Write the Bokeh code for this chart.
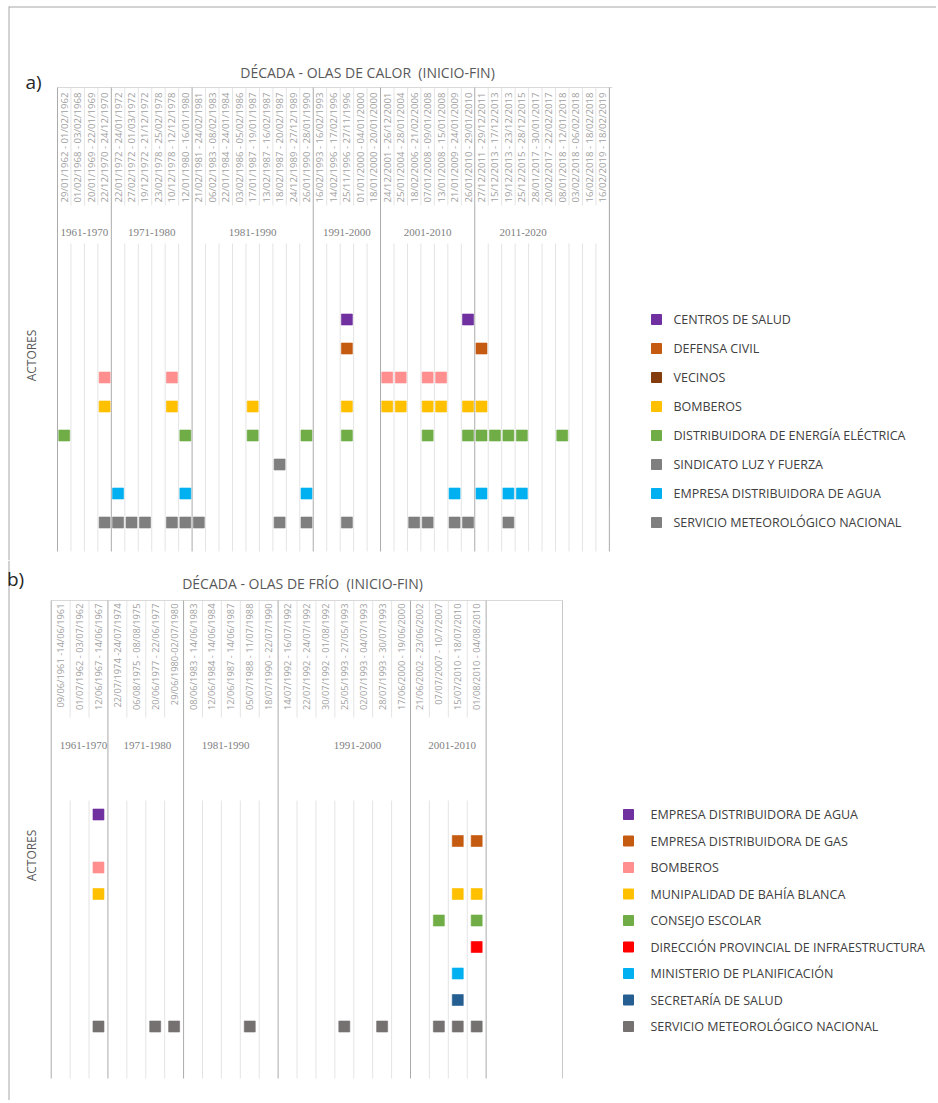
import math
from bokeh.plotting import figure
from bokeh.layouts import column
from bokeh.models import Range1d
from bokeh.core.properties import value
from bokeh.embed import file_html
from bokeh.resources import INLINE

# ---------------- DATA: heat waves (panel a) ----------------
HEAT_DATES = [
    "29/01/1962 - 01/02/1962", "01/02/1968 - 03/02/1968", "20/01/1969 - 22/01/1969",
    "22/12/1970 - 24/12/1970", "22/01/1972 - 24/01/1972", "27/02/1972 - 01/03/1972",
    "19/12/1972 - 21/12/1972", "23/02/1978 - 25/02/1978", "10/12/1978 - 12/12/1978",
    "12/01/1980 - 16/01/1980", "21/02/1981 - 24/02/1981", "06/02/1983 - 08/02/1983",
    "22/01/1984 - 24/01/1984", "03/02/1986 - 05/02/1986", "17/01/1987 - 19/01/1987",
    "13/02/1987 - 16/02/1987", "18/02/1987 - 20/02/1987", "24/12/1989 - 27/12/1989",
    "26/01/1990 - 28/01/1990", "16/02/1993 - 16/02/1993", "14/02/1996 - 17/02/1996",
    "25/11/1996 - 27/11/1996", "01/01/2000 - 04/01/2000", "18/01/2000 - 20/01/2000",
    "24/12/2001 - 26/12/2001", "25/01/2004 - 28/01/2004", "18/02/2006 - 21/02/2006",
    "07/01/2008 - 09/01/2008", "13/01/2008 - 15/01/2008", "21/01/2009 - 24/01/2009",
    "26/01/2010 - 29/01/2010", "27/12/2011 - 29/12/2011", "15/12/2013 - 17/12/2013",
    "19/12/2013 - 23/12/2013", "25/12/2015 - 28/12/2015", "28/01/2017 - 30/01/2017",
    "20/02/2017 - 22/02/2017", "08/01/2018 - 12/01/2018", "03/02/2018 - 06/02/2018",
    "16/02/2018 - 18/02/2018", "16/02/2019 - 18/02/2019",
]
HEAT_DECADES = ["1961-1970", "1971-1980", "1981-1990", "1991-2000", "2001-2010", "2011-2020"]
HEAT_DECADE_COUNTS = [4, 6, 9, 5, 7, 10]
HEAT_ACTORS = [
    "Centros de salud", "Defensa civil", "Vecinos", "Bomberos",
    "distribuidora de energía eléctrica", "Sindicato Luz y Fuerza",
    "Empresa distribuidora de agua", "Servicio Meteorológico Nacional",
]
# column indices (into HEAT_DATES) where each actor intervened
HEAT_EVENTS = [
    [21, 30],
    [21, 31],
    [3, 8, 24, 25, 27, 28],
    [3, 8, 14, 21, 24, 25, 27, 28, 30, 31],
    [0, 9, 14, 18, 21, 27, 30, 31, 32, 33, 34, 37],
    [16],
    [4, 9, 18, 29, 31, 33, 34],
    [3, 4, 5, 6, 8, 9, 10, 16, 18, 21, 26, 27, 29, 30, 33],
]

# ---------------- DATA: cold waves (panel b) ----------------
COLD_DATES = [
    "09/06/1961 -14/06/1961", "01/07/1962 - 03/07/1962", "12/06/1967 - 14/06/1967",
    "22/07/1974 -24/07/1974", "06/08/1975 - 08/08/1975", "20/06/1977 - 22/06/1977",
    "29/06/1980-02/07/1980", "08/06/1983 - 14/06/1983", "12/06/1984 - 14/06/1984",
    "12/06/1987 - 14/06/1987", "05/07/1988 - 11/07/1988", "18/07/1990 - 22/07/1990",
    "14/07/1992 - 16/07/1992", "22/07/1992 - 24/07/1992", "30/07/1992 - 01/08/1992",
    "25/05/1993 - 27/05/1993", "02/07/1993 - 04/07/1993", "28/07/1993 - 30/07/1993",
    "17/06/2000 - 19/06/2000", "21/06/2002 - 23/06/2002", "07/07/2007 - 10/7/2007",
    "15/07/2010 - 18/07/2010", "01/08/2010 - 04/08/2010",
]
COLD_DECADES = ["1961-1970", "1971-1980", "1981-1990", "1991-2000", "2001-2010"]
COLD_DECADE_COUNTS = [3, 4, 5, 7, 4]
COLD_ACTORS = [
    "Empresa distribuidora de agua", "Empresa distribuidora de gas", "Bomberos",
    "Munipalidad de Bahía Blanca", "Consejo Escolar",
    "Dirección Provincial de Infraestructura", "Ministerio de Planificación",
    "Secretaría de Salud", "Servicio Meteorológico Nacional",
]
COLD_EVENTS = [
    [2],
    [21, 22],
    [2],
    [2, 21, 22],
    [20, 22],
    [22],
    [21],
    [21],
    [2, 5, 6, 10, 15, 17, 20, 21, 22],
]

# ---------------- styles ----------------
HEAT_MARK_COLORS = ["#7030A0", "#C55A11", "#FF8F8F", "#FFC000", "#70AD47", "#7F7F7F", "#00B0F0", "#7F7F7F"]
HEAT_LEG_COLORS = ["#7030A0", "#C55A11", "#843C0C", "#FFC000", "#70AD47", "#7F7F7F", "#00B0F0", "#7F7F7F"]
COLD_MARK_COLORS = ["#7030A0", "#C55A11", "#FF8F8F", "#FFC000", "#70AD47", "#FF0000", "#00B0F0", "#255E91", "#767171"]

FONT = value("Open Sans")
SERIF = value("Liberation Serif")
LIGHT = "#E4E4E4"
DIV = "#ABABAB"
W = 936
PAGE_X = 0  # page x of the figures' left edge


def build_panel(cfg, dates, decades, counts, actors, events, mark_colors, leg_colors):
    top, H = cfg["fig_top"], cfg["height"]
    x0, cw, y0, rh = cfg["x0"], cfg["cw"], cfg["row0"], cfg["rh"]

    def X(px):
        return (px - x0) / cw

    def Y(py):
        return (py - y0) / rh

    p = figure(width=W, height=H, output_backend="svg", toolbar_location=None,
               x_range=Range1d(X(PAGE_X), X(PAGE_X + W)), y_range=Range1d(Y(top + H), Y(top)),
               min_border=0, x_axis_location=None, y_axis_location=None)
    p.grid.visible = False
    p.outline_line_color = None
    p.background_fill_color = "white"
    p.border_fill_color = "white"

    n = len(dates)
    bounds = [0]
    for c in counts:
        bounds.append(bounds[-1] + c)
    div_set = set(bounds)

    # light column separators (header and data area)
    xs0, ys0, xs1, ys1 = [], [], [], []
    for k in range(1, n + 1):
        if k in div_set:
            continue
        xs0 += [k, k]
        xs1 += [k, k]
        ys0 += [Y(cfg["header_top"]), Y(cfg["data_top"])]
        ys1 += [Y(cfg["sep_bottom"]), Y(cfg["data_bottom"])]
    p.segment(xs0, ys0, xs1, ys1, line_color=LIGHT, line_width=1)

    # header top line
    p.segment([X(x0)], [Y(cfg["header_top"])], [X(cfg["header_right"])], [Y(cfg["header_top"])],
              line_color="#D9D9D9", line_width=1)

    # extra right line
    p.segment([X(cfg["right_x"])], [Y(cfg["right_top"])], [X(cfg["right_x"])], [Y(cfg["right_bottom"])],
              line_color="#C8C8C8", line_width=1)

    # decade dividers
    dv = [b for b in bounds]
    p.segment(dv, [Y(cfg["header_top"])] * len(dv), dv, [Y(cfg["data_bottom"])] * len(dv),
              line_color=DIV, line_width=1)

    # page border (left, and top on first panel)
    p.segment([X(8.5)], [Y(max(top, 6))], [X(8.5)], [Y(top + H)], line_color="#A6A6A6", line_width=1)
    if cfg.get("top_border"):
        p.segment([X(8.5)], [Y(6.5)], [X(PAGE_X + W)], [Y(6.5)], line_color="#A6A6A6", line_width=1)

    # date labels (rotated)
    p.text(x=[i + 0.5 for i in range(n)], y=[Y(cfg["date_top"])] * n, text=dates,
           angle=math.pi / 2, text_align="right", text_baseline="middle",
           text_font=FONT, text_font_size=cfg["date_fs"], text_color="#A0A0A0")

    # decade labels
    p.text(x=cfg["decade_x"], y=[Y(cfg["decade_y"])] * len(decades), text=decades,
           text_align="center", text_baseline="middle",
           text_font=SERIF, text_font_size="11px", text_color="#7F7F7F")

    # markers
    for r, (evs, col) in enumerate(zip(events, mark_colors)):
        p.scatter(x=[i + 0.5 for i in evs], y=[r] * len(evs), marker="square", size=11,
                  fill_color=col, line_color=col, line_alpha=0.6)

    # legend
    na = len(actors)
    p.scatter(x=[X(cfg["leg_sw"])] * na, y=list(range(na)), marker="square", size=10,
              fill_color=leg_colors, line_color=leg_colors)
    p.text(x=[X(cfg["leg_tx"])] * na, y=list(range(na)), text=[a.upper() for a in actors],
           text_align="left", text_baseline="middle", text_font=FONT,
           text_font_size=cfg["leg_fs"], text_color="#404040")

    # titles and labels
    p.text(x=[X(cfg["title_x"])], y=[Y(cfg["title_y"])], text=[cfg["title"]],
           text_align="center", text_baseline="middle", text_font=FONT,
           text_font_size="14px", text_color="#595959")
    p.text(x=[X(cfg["lab_x"])], y=[Y(cfg["lab_y"])], text=[cfg["label"]],
           text_align="center", text_baseline="middle", text_font=FONT,
           text_font_size="19px", text_color="#262626")
    p.text(x=[X(31)], y=[Y(cfg["act_y"])], text=["Actores".upper()], angle=math.pi / 2,
           text_align="center", text_baseline="middle", text_font=FONT,
           text_font_size="12px", text_color="#595959")
    return p


cfg_a = dict(fig_top=0, height=560, x0=57, cw=13.46, row0=319, rh=29,
             header_top=87, header_right=612, sep_bottom=205, data_top=243, data_bottom=551,
             right_x=609, right_top=87, right_bottom=507,
             date_top=92, date_fs="9.6px", decade_y=232,
             decade_x=[2, 7, 14.5, 21.5, 27.5, 34.6],
             leg_sw=656, leg_tx=673, leg_fs="12.5px",
             title="DÉCADA - OLAS DE CALOR \u00a0(INICIO-FIN)", title_x=367, title_y=72,
             label="a)", lab_x=33, lab_y=81, act_y=355, top_border=True)

cfg_b = dict(fig_top=560, height=540, x0=50.7, cw=18.91, row0=814, rh=26.5,
             header_top=600, header_right=562, sep_bottom=717, data_top=800, data_bottom=1078,
             right_x=562, right_top=600, right_bottom=1078,
             date_top=603, date_fs="9.3px", decade_y=745,
             decade_x=[1.71, 5.09, 9.22, 16.2, 21.2],
             leg_sw=628, leg_tx=650, leg_fs="12.5px",
             title="DÉCADA - OLAS DE FRÍO \u00a0(INICIO-FIN)", title_x=302, title_y=583,
             label="b)", lab_x=15, lab_y=578, act_y=855)

pa = build_panel(cfg_a, HEAT_DATES, HEAT_DECADES, HEAT_DECADE_COUNTS, HEAT_ACTORS,
                 HEAT_EVENTS, HEAT_MARK_COLORS, HEAT_LEG_COLORS)
pb = build_panel(cfg_b, COLD_DATES, COLD_DECADES, COLD_DECADE_COUNTS, COLD_ACTORS,
                 COLD_EVENTS, COLD_MARK_COLORS, COLD_MARK_COLORS)

layout = column(pa, pb, spacing=0)
open("out.html", "w").write(file_html(layout, INLINE))
